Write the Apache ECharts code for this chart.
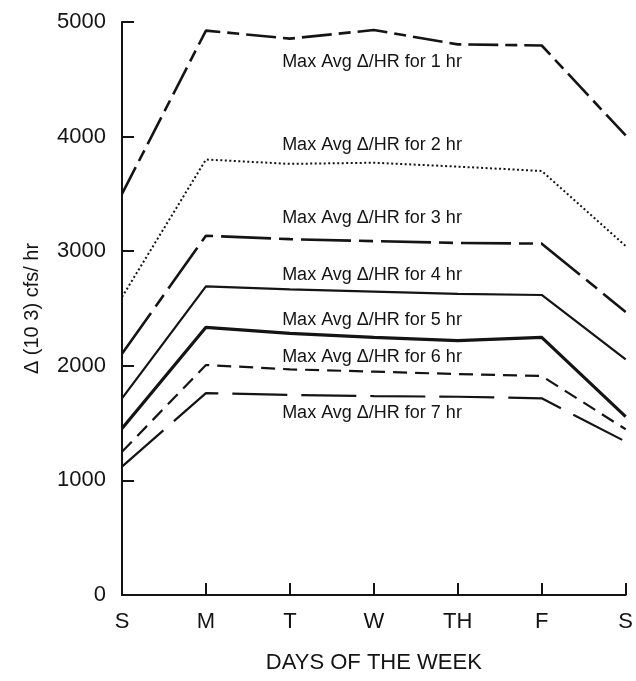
<!DOCTYPE html>
<html>
<head>
<meta charset="utf-8">
<script src="https://cdn.jsdelivr.net/npm/echarts@6/dist/echarts.min.js"></script>
<style>html,body{margin:0;padding:0;background:#fff}#c{width:636px;height:681px}</style>
</head>
<body>
<div id="c"></div>
<script>
var days = ['S', 'M', 'T', 'W', 'TH', 'F', 'S '];
var yTicks = [0, 1000, 2000, 3000, 4000, 5000];
var hr1 = [3500, 4925, 4855, 4930, 4805, 4795, 4010];
var hr2 = [2600, 3800, 3762, 3772, 3738, 3700, 3045];
var hr3 = [2105, 3135, 3105, 3088, 3072, 3066, 2470];
var hr4 = [1716, 2693, 2667, 2647, 2627, 2618, 2057];
var hr5 = [1452, 2336, 2283, 2248, 2219, 2248, 1556];
var hr6 = [1250, 2007, 1969, 1949, 1928, 1911, 1446];
var hr7 = [1120, 1762, 1745, 1736, 1730, 1716, 1338];
var seriesNames = ['Max Avg Δ/HR for 1 hr', 'Max Avg Δ/HR for 2 hr', 'Max Avg Δ/HR for 3 hr',
  'Max Avg Δ/HR for 4 hr', 'Max Avg Δ/HR for 5 hr', 'Max Avg Δ/HR for 6 hr', 'Max Avg Δ/HR for 7 hr'];

var ink = '#141414';
var font = 'Liberation Sans, Arial, sans-serif';
var seriesData = [hr1, hr2, hr3, hr4, hr5, hr6, hr7];
var styles = [
  {width: 2.6, type: [30, 7, 12, 7]},
  {width: 2, type: [2, 2.5]},
  {width: 2.6, type: [50, 8, 14, 8]},
  {width: 2.2, type: 'solid'},
  {width: 3.2, type: 'solid'},
  {width: 2.2, type: [14, 8]},
  {width: 2.2, type: [55, 14]}
];
var labelY = [62, 145, 218, 275, 320, 357, 413];

var chart = echarts.init(document.getElementById('c'), null, {renderer: 'canvas'});
var option = {
  backgroundColor: '#ffffff',
  animation: false,
  grid: {left: 122, right: 8, top: 22, bottom: 86},
  xAxis: {
    type: 'category',
    data: days,
    boundaryGap: false,
    name: 'DAYS OF THE WEEK',
    nameLocation: 'middle',
    nameGap: 57,
    nameTextStyle: {color: ink, fontFamily: font, fontSize: 22},
    axisLine: {lineStyle: {color: ink, width: 2}},
    axisTick: {inside: true, length: 12, lineStyle: {color: ink, width: 2}},
    axisLabel: {color: ink, fontFamily: font, fontSize: 22, margin: 16,
      formatter: function (v) { return v.trim(); }},
    splitLine: {show: false}
  },
  yAxis: {
    type: 'value',
    min: yTicks[0],
    max: yTicks[yTicks.length - 1],
    interval: 1000,
    name: 'Δ (10 3) cfs/ hr',
    nameLocation: 'middle',
    nameGap: 80,
    nameRotate: 90,
    nameTextStyle: {color: ink, fontFamily: font, fontSize: 20},
    axisLine: {show: true, lineStyle: {color: ink, width: 2}},
    axisTick: {show: true, inside: true, length: 12, lineStyle: {color: ink, width: 2}},
    axisLabel: {color: ink, fontFamily: font, fontSize: 22, margin: 16,
      formatter: function (v) { return String(v); }},
    splitLine: {show: false}
  },
  series: seriesData.map(function (d, i) {
    return {
      name: seriesNames[i],
      type: 'line',
      data: d,
      symbol: 'none',
      lineStyle: {color: ink, width: styles[i].width, type: styles[i].type, cap: 'butt'}
    };
  }),
  graphic: seriesNames.map(function (n, i) {
    return {
      type: 'text',
      x: 372,
      y: labelY[i],
      style: {text: n, fill: ink, font: '18px ' + font, textAlign: 'center', textVerticalAlign: 'middle'}
    };
  })
};
chart.setOption(option);
</script>
</body>
</html>
